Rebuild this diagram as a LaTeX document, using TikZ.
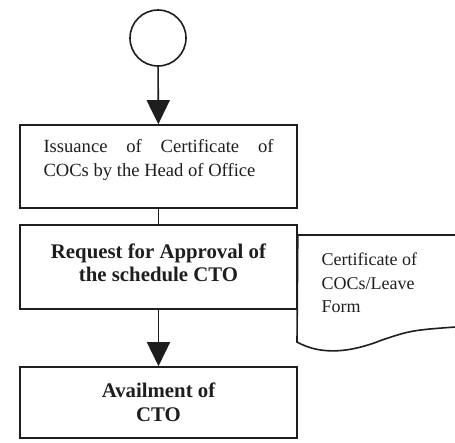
\documentclass[tikz,border=0pt]{standalone}
\usepackage{fontspec}
\setmainfont{Liberation Serif}
\usetikzlibrary{arrows.meta}
\definecolor{inkGray}{RGB}{30, 30, 30}

\begin{document}
\begin{tikzpicture}[x=1pt, y=-1pt,
    every node/.style={inkGray},
    procbox/.style={draw=inkGray, line width=1.6pt, rectangle, minimum width=277pt, inner sep=0pt},
    flow/.style={draw=inkGray, line width=1.6pt},
    flowarrow/.style={flow, -{Triangle[width=23pt, length=24pt]}},
    boxtext/.style={font=\fontsize{18.6}{24}\selectfont},
    boldtext/.style={font=\fontsize{20.8}{23.5}\selectfont\bfseries}]
      \useasboundingbox (0,0) rectangle (455,442);
      \clip (0,0) rectangle (455,442);

      % start circle
      \node[draw=inkGray, line width=1.6pt, circle, minimum size=56pt, inner sep=0pt] (start) at (158,38) {};

      % the three steps
      \node[procbox, minimum height=83pt, boxtext, text width=230pt, align=justify] (issue) at (158.5,166.5)
        {Issuance of Certificate of\linebreak COCs by the Head of Office\rule[-18pt]{0pt}{1pt}};
      \node[procbox, minimum height=84pt, boldtext, align=center] (request) at (158.5,267)
        {Request for Approval of\\the schedule CTO\rule[-9pt]{0pt}{1pt}};
      \node[procbox, minimum height=71pt, boldtext, align=center] (avail) at (158.5,402.5)
        {Availment of\\CTO};

      % connectors
      \draw[flowarrow] (start) -- (issue);
      \draw[flow] (issue) -- (request);
      \draw[flowarrow] (request) -- (avail);

      % document attached to the request
      \draw[flow] (request.east |- 0,235) -- (470,235);
      \draw[flow] (request.east |- 0,235) -- (297,342)
        .. controls (322,356) and (352,352) .. (382,340)
        .. controls (412,330) .. (470,326);
      \node[boxtext, font=\fontsize{18}{23.5}\selectfont, anchor=west, align=left] (form) at (318,283)
        {Certificate of\\COCs/Leave\\Form};
\end{tikzpicture}
\end{document}
